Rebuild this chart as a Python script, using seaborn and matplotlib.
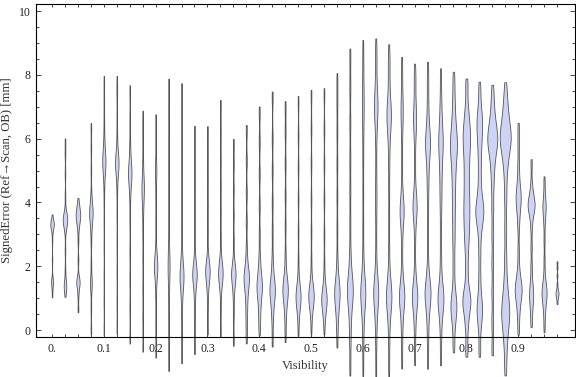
import numpy as np
import pandas as pd
import seaborn as sns
import matplotlib.pyplot as plt

visibility = [0.0, 0.025, 0.05, 0.075, 0.1, 0.125, 0.15, 0.175, 0.2, 0.225,
              0.25, 0.275, 0.3, 0.325, 0.35, 0.375, 0.4, 0.425, 0.45, 0.475,
              0.5, 0.525, 0.55, 0.575, 0.6, 0.625, 0.65, 0.675, 0.7, 0.725,
              0.75, 0.775, 0.8, 0.825, 0.85, 0.875, 0.9, 0.925, 0.95, 0.975]

# signed error samples [mm] per visibility bin, estimated from the chart
signed_error = [
    [1.1, 1.35, 1.45, 1.5, 1.55, 1.65, 2.2, 2.8, 3.1, 3.2, 3.25, 3.28, 3.3, 3.32, 3.35, 3.4, 3.45, 3.55],
    [1.15, 1.3, 1.38, 1.42, 1.5, 1.9, 2.5, 3.1, 3.25, 3.35, 3.4, 3.43, 3.46, 3.5, 3.55, 3.62, 3.7, 4.2, 4.9, 5.5, 5.9],
    [0.65, 1.1, 1.35, 1.45, 1.5, 1.55, 1.65, 2.2, 2.8, 3.15, 3.3, 3.4, 3.5, 3.55, 3.6, 3.65, 3.7, 3.8, 3.9, 4.05],
    [0.0, 0.7, 1.35, 1.45, 1.55, 2.1, 2.8, 3.2, 3.4, 3.55, 3.62, 3.68, 3.75, 3.85, 4.0, 4.3, 5.0, 5.7, 6.35],
    [0.0, 0.9, 1.7, 2.6, 3.4, 4.1, 4.6, 4.9, 5.05, 5.15, 5.25, 5.3, 5.35, 5.45, 5.6, 5.8, 6.1, 6.6, 7.2, 7.8],
    [0.05, 0.9, 1.8, 2.7, 3.6, 4.3, 4.75, 5.0, 5.1, 5.18, 5.22, 5.27, 5.35, 5.45, 5.65, 6.0, 6.6, 7.3, 7.8],
    [-0.25, 0.7, 1.6, 2.5, 3.4, 4.1, 4.5, 4.7, 4.82, 4.9, 4.97, 5.05, 5.2, 5.45, 5.9, 6.6, 7.5],
    [-0.5, 0.4, 1.3, 2.2, 3.0, 3.6, 4.0, 4.25, 4.4, 4.5, 4.65, 4.9, 5.4, 6.1, 6.7],
    [-0.7, 0.2, 1.0, 1.45, 1.7, 1.85, 1.95, 2.0, 2.05, 2.15, 2.3, 2.6, 3.3, 4.2, 4.8, 5.0, 5.2, 5.9, 6.6],
    [-1.05, -0.2, 0.6, 1.3, 1.8, 2.0, 2.2, 2.7, 3.5, 4.3, 5.1, 5.9, 6.8, 7.65],
    [-0.85, 0.1, 0.7, 1.1, 1.35, 1.5, 1.6, 1.67, 1.74, 1.82, 1.95, 2.15, 2.5, 3.2, 4.1, 5.0, 5.9, 6.8, 7.55],
    [-0.6, 0.3, 0.8, 1.2, 1.45, 1.6, 1.68, 1.74, 1.8, 1.9, 2.05, 2.3, 3.0, 3.8, 4.7, 5.5, 6.25],
    [0.0, 0.7, 1.2, 1.45, 1.6, 1.72, 1.8, 1.86, 1.92, 2.0, 2.15, 2.4, 3.1, 3.9, 4.7, 5.5, 6.25],
    [-0.05, 0.7, 1.3, 1.5, 1.62, 1.72, 1.78, 1.84, 1.92, 2.05, 2.25, 2.9, 3.7, 4.5, 5.3, 6.2, 7.05],
    [-0.35, 0.5, 1.05, 1.35, 1.55, 1.66, 1.72, 1.78, 1.86, 1.98, 2.2, 2.8, 3.6, 4.4, 5.2, 5.85],
    [-0.27, 0.2, 0.6, 0.95, 1.2, 1.4, 1.52, 1.6, 1.68, 1.78, 1.92, 2.15, 2.6, 3.4, 4.3, 5.3, 6.28],
    [0.0, 0.35, 0.7, 0.95, 1.15, 1.27, 1.35, 1.43, 1.55, 1.7, 1.95, 2.3, 3.0, 3.9, 4.9, 5.9, 6.84],
    [-0.34, 0.3, 0.65, 0.9, 1.08, 1.18, 1.25, 1.32, 1.42, 1.58, 1.85, 2.3, 3.1, 4.0, 5.0, 6.0, 7.3],
    [-0.2, 0.35, 0.7, 0.95, 1.1, 1.2, 1.26, 1.32, 1.42, 1.58, 1.85, 2.4, 3.3, 4.2, 5.2, 6.2, 7.0],
    [0.0, 0.45, 0.7, 0.85, 0.95, 1.01, 1.06, 1.12, 1.2, 1.35, 1.6, 2.2, 3.1, 4.1, 5.1, 6.1, 7.16],
    [0.05, 0.55, 0.78, 0.9, 0.98, 1.03, 1.08, 1.14, 1.22, 1.35, 1.55, 2.2, 3.1, 4.1, 5.2, 6.3, 7.35],
    [0.05, 0.45, 0.68, 0.8, 0.88, 0.93, 0.98, 1.04, 1.12, 1.25, 1.5, 2.1, 3.0, 4.1, 5.2, 6.3, 7.4],
    [-0.34, 0.2, 0.55, 0.8, 0.97, 1.08, 1.15, 1.22, 1.32, 1.48, 1.75, 2.3, 3.2, 4.2, 5.2, 6.2, 7.1, 7.85],
    [-1.2, -0.4, 0.15, 0.55, 0.85, 1.05, 1.17, 1.25, 1.33, 1.45, 1.65, 1.95, 2.5, 3.4, 4.4, 5.4, 6.5, 7.6, 8.6],
    [-1.2, -0.4, 0.15, 0.55, 0.8, 0.98, 1.1, 1.17, 1.24, 1.35, 1.55, 1.85, 2.4, 3.3, 4.3, 5.3, 6.1, 6.7, 7.1, 7.5, 8.1, 8.85],
    [-1.35, -0.5, 0.1, 0.5, 0.8, 0.98, 1.1, 1.17, 1.24, 1.35, 1.55, 1.85, 2.5, 3.3, 4.0, 4.4, 5.1, 5.9, 6.4, 6.75, 6.92, 7.05, 7.2, 7.45, 7.9, 8.5, 8.9],
    [-1.3, -0.5, 0.1, 0.5, 0.75, 0.92, 1.0, 1.07, 1.15, 1.27, 1.5, 1.85, 2.6, 3.5, 4.4, 5.2, 5.8, 6.2, 6.5, 6.65, 6.75, 6.85, 7.0, 7.3, 7.8, 8.3, 8.72],
    [-1.0, -0.3, 0.2, 0.55, 0.78, 0.93, 1.01, 1.08, 1.16, 1.28, 1.5, 1.9, 2.6, 3.2, 3.5, 3.65, 3.75, 3.87, 4.05, 4.5, 5.3, 6.1, 6.6, 6.9, 7.15, 7.7, 8.36],
    [-0.9, -0.2, 0.25, 0.6, 0.8, 0.94, 1.02, 1.09, 1.17, 1.3, 1.52, 1.95, 2.7, 3.3, 3.6, 3.78, 3.88, 3.98, 4.15, 4.5, 5.2, 5.9, 6.3, 6.55, 6.7, 6.9, 7.3, 7.8, 8.15],
    [-1.0, -0.3, 0.25, 0.6, 0.85, 1.0, 1.1, 1.18, 1.26, 1.38, 1.6, 2.0, 2.8, 3.6, 4.3, 4.8, 5.2, 5.5, 5.7, 5.82, 5.92, 6.05, 6.25, 6.55, 7.0, 7.6, 8.2],
    [-0.9, -0.2, 0.3, 0.6, 0.78, 0.9, 0.98, 1.06, 1.18, 1.38, 1.7, 2.3, 3.0, 3.7, 4.2, 4.6, 5.0, 5.3, 5.55, 5.75, 5.9, 6.05, 6.25, 6.5, 6.85, 7.3, 8.0],
    [-0.5, 0.15, 0.5, 0.68, 0.78, 0.95, 1.3, 2.0, 2.7, 3.2, 3.7, 4.1, 4.5, 4.85, 5.15, 5.4, 5.6, 5.75, 5.9, 6.05, 6.25, 6.5, 6.85, 7.3, 7.9],
    [-0.65, 0.1, 0.55, 0.8, 0.92, 1.02, 1.3, 1.9, 2.5, 2.9, 3.2, 3.5, 3.75, 4.0, 4.3, 4.6, 4.9, 5.2, 5.5, 5.75, 5.95, 6.15, 6.35, 6.6, 7.0, 7.7],
    [-0.65, 0.1, 0.45, 0.62, 0.8, 1.1, 1.7, 2.4, 3.0, 3.35, 3.55, 3.68, 3.78, 3.9, 4.1, 4.45, 4.9, 5.35, 5.75, 6.05, 6.3, 6.5, 6.7, 7.0, 7.6],
    [-0.6, 0.3, 1.2, 2.1, 3.0, 3.8, 4.5, 4.95, 5.3, 5.55, 5.72, 5.85, 5.95, 6.05, 6.17, 6.3, 6.48, 6.7, 7.05, 7.5],
    [-1.2, -0.5, -0.1, 0.2, 0.4, 0.55, 0.7, 0.9, 1.2, 1.6, 2.3, 3.2, 4.1, 4.8, 5.25, 5.55, 5.75, 5.88, 5.98, 6.08, 6.2, 6.35, 6.55, 6.8, 7.1, 7.55],
    [0.0, 0.45, 0.75, 0.95, 1.1, 1.2, 1.28, 1.36, 1.48, 1.65, 1.95, 2.5, 3.2, 3.6, 3.85, 4.02, 4.15, 4.28, 4.45, 4.75, 5.2, 5.8, 6.35],
    [0.22, 0.6, 0.85, 1.02, 1.15, 1.3, 1.55, 2.0, 2.6, 3.2, 3.55, 3.72, 3.82, 3.9, 3.96, 4.04, 4.14, 4.3, 4.6, 5.23],
    [0.05, 0.45, 0.7, 0.88, 1.0, 1.1, 1.18, 1.26, 1.36, 1.5, 1.75, 2.2, 2.8, 3.3, 3.6, 3.78, 3.9, 4.02, 4.3, 4.7],
    [0.85, 0.98, 1.05, 1.1, 1.14, 1.18, 1.23, 1.3, 1.45, 1.7, 1.95, 2.12],
]

# widest part of each violin, as a fraction of the gap between two bins
max_width = [0.27, 0.35, 0.35, 0.27, 0.25, 0.27, 0.27, 0.19, 0.27, 0.15,
             0.31, 0.35, 0.35, 0.35, 0.35, 0.42, 0.42, 0.42, 0.42, 0.39,
             0.42, 0.42, 0.42, 0.46, 0.39, 0.39, 0.42, 0.42, 0.42, 0.46,
             0.46, 0.54, 0.62, 0.62, 0.77, 0.85, 0.54, 0.54, 0.39, 0.23]

xtick_pos = [0.0, 0.1, 0.2, 0.3, 0.4, 0.5, 0.6, 0.7, 0.8, 0.9]
xtick_labels = ["0.", "0.1", "0.2", "0.3", "0.4", "0.5", "0.6", "0.7", "0.8", "0.9"]
ytick_pos = [0, 2, 4, 6, 8, 10]

rows = [(v, e) for v, errs in zip(visibility, signed_error) for e in errs]
df = pd.DataFrame(rows, columns=["Visibility", "SignedError"])

sns.set_style("ticks")
plt.rcParams["font.family"] = ["Liberation Serif", "DejaVu Serif"]

fig = plt.figure(figsize=(5.76, 3.77), dpi=100)
ax = fig.add_axes([0.0625, 0.106, 0.936, 0.883])

sns.violinplot(data=df, x="Visibility", y="SignedError", native_scale=True,
               inner=None, cut=0.6, bw_adjust=0.25, density_norm="width", width=1.0,
               color="#ccd3f4", saturation=1, linecolor="#555555", linewidth=0.6, ax=ax)

# rescale each violin to its own width and let the tails run below the frame
for coll, w in zip(ax.collections, max_width):
    verts = coll.get_paths()[0].vertices.copy()
    c = (verts[:, 0].min() + verts[:, 0].max()) / 2
    verts[:, 0] = c + (verts[:, 0] - c) * w
    coll.set_verts([verts])
    coll.set_clip_on(False)

ax.set_xlim(-0.031, 1.01)
ax.set_ylim(-0.22, 10.22)

ax.set_xticks(xtick_pos, xtick_labels)
ax.set_xticks(visibility, minor=True)
ax.set_yticks(ytick_pos)
ax.set_yticks(np.arange(0, 10.01, 0.5), minor=True)

ax.tick_params(which="both", direction="in", top=True, right=True,
               labelsize=8.5, labelcolor="#222222", width=0.6, pad=4)
ax.tick_params(axis="x", which="both", length=2.5)
ax.tick_params(axis="y", which="major", length=3.5)
ax.tick_params(axis="y", which="minor", length=2)

for s in ax.spines.values():
    s.set_linewidth(0.8)
    s.set_color("black")

ax.set_xlabel("Visibility", fontsize=9, color="#333333", labelpad=4)
ax.set_ylabel("SignedError (Ref\u2192Scan, OB) [mm]", fontsize=9.2, color="#333333", labelpad=4)

fig.savefig("out.png", dpi=100)
